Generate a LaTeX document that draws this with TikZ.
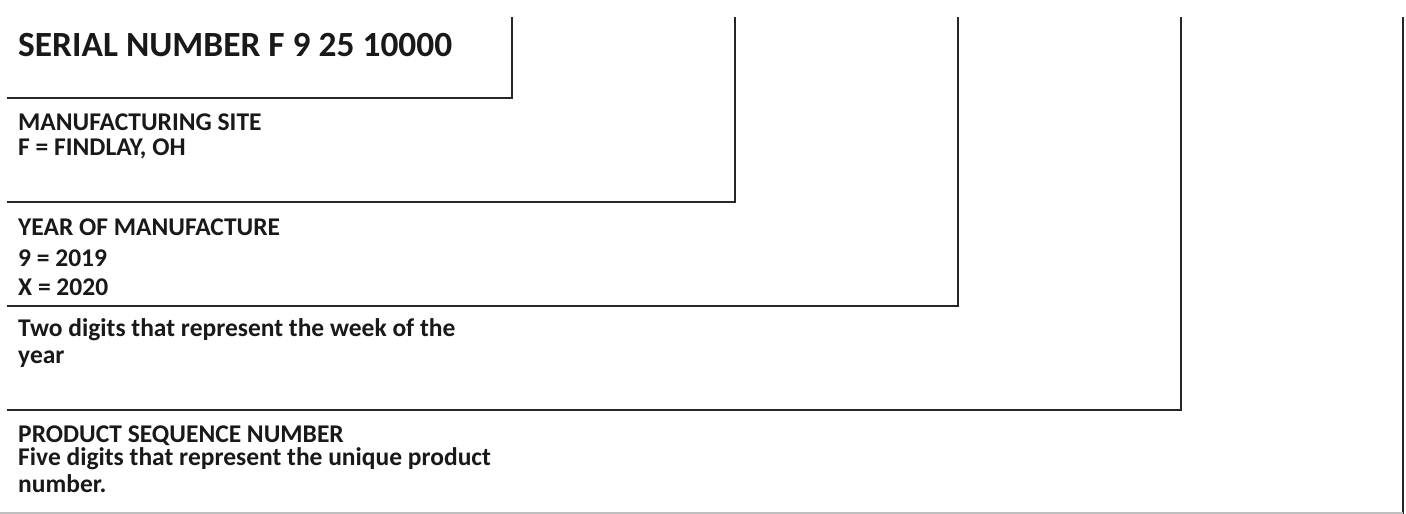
\documentclass[tikz,border=0pt]{standalone}
\usepackage{fontspec}
\setmainfont{Carlito}
\begin{document}
\begin{tikzpicture}[x=1pt,y=-1pt,
  txt/.style={anchor=base west,inner sep=0pt,font=\fontsize{25.5}{30}\selectfont\bfseries,text=black!90},
  ttl/.style={anchor=base west,inner sep=0pt,font=\fontsize{35.4}{40}\selectfont\bfseries,text=black!90},
  bracket/.style={draw=black!85,line width=2pt,line cap=rect}]
\useasboundingbox[fill=white] (0,0) rectangle (1406,514);
% brackets
\coordinate (t1) at (512,18);  \coordinate (c1) at (512,98);  \coordinate (l1) at (8,98);
\coordinate (t2) at (735,18);  \coordinate (c2) at (735,202); \coordinate (l2) at (8,202);
\coordinate (t3) at (958,18);  \coordinate (c3) at (958,306); \coordinate (l3) at (8,306);
\coordinate (t4) at (1181,18); \coordinate (c4) at (1181,410); \coordinate (l4) at (8,410);
\coordinate (t5) at (1403,18); \coordinate (c5) at (1403,513); \coordinate (l5) at (0,513);
\draw[bracket] (t1) -- (c1) -- (l1);
\draw[bracket] (t2) -- (c2) -- (l2);
\draw[bracket] (t3) -- (c3) -- (l3);
\draw[bracket] (t4) -- (c4) -- (l4);
\draw[bracket] (t5) -- (c5);
\draw[draw=black!25,line width=1.2pt] (c5) -- (l5);
% texts
\node[ttl] (serial) at (18,56) {SERIAL NUMBER F 9 25 10000};
\node[txt] (site1) at (18,130) {MANUFACTURING SITE};
\node[txt] (site2) at (18,155) {F = FINDLAY, OH};
\node[txt] (year1) at (18,235) {YEAR OF MANUFACTURE};
\node[txt] (year2) at (18,266) {9 = 2019};
\node[txt] (year3) at (18,295) {X = 2020};
\node[txt] (week1) at (18,336) {Two digits that represent the week of the};
\node[txt] (week2) at (18,363) {year};
\node[txt] (seq1) at (18,442) {PRODUCT SEQUENCE NUMBER};
\node[txt] (seq2) at (18,465) {Five digits that represent the unique product};
\node[txt] (seq3) at (18,492) {number.};
\end{tikzpicture}
\end{document}
